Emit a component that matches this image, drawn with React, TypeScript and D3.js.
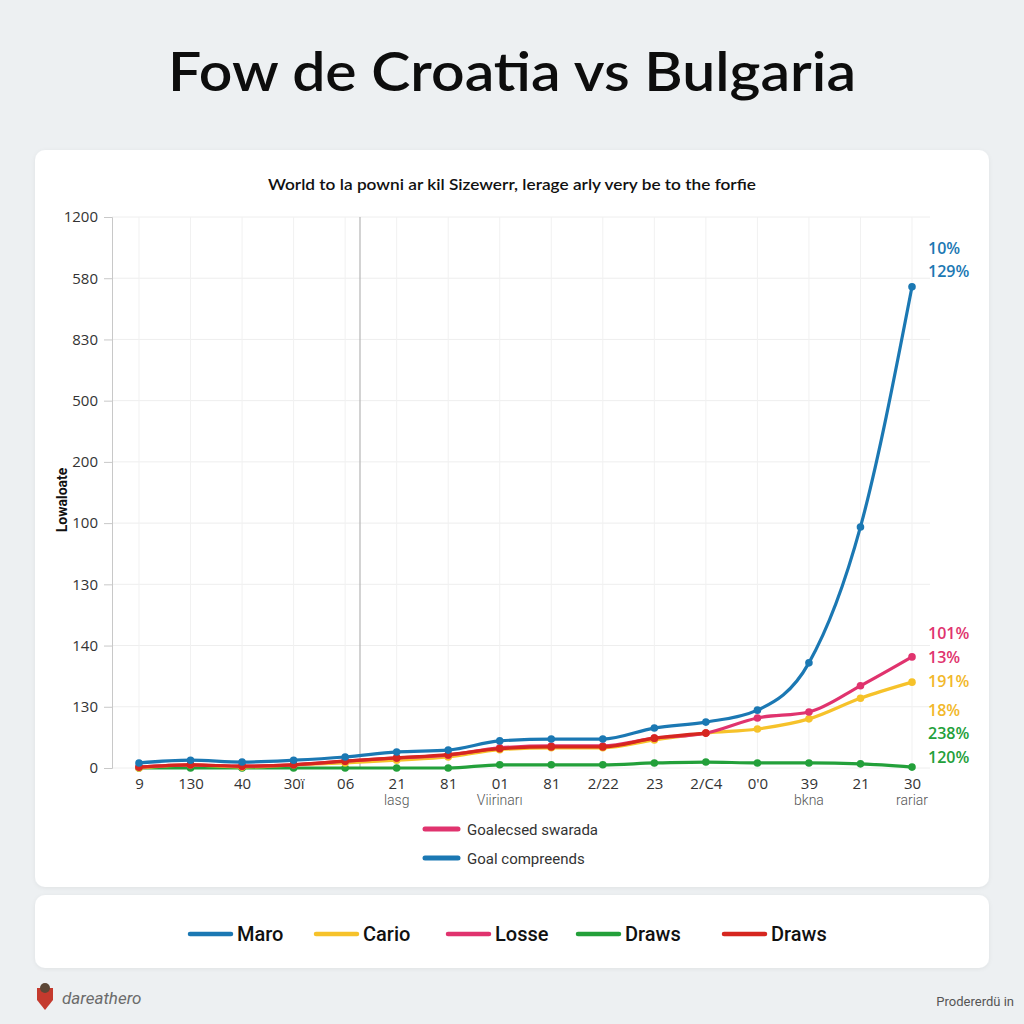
import React, { useEffect, useRef } from "react";
import * as d3 from "d3";

// x categories (tick labels as printed) and second row labels
const xLabels = ["9", "130", "40", "30ї", "06", "21", "81", "01", "81", "2/22", "23", "2/C4", "0'0", "39", "21", "30"];
const xSubLabels = ["", "", "", "", "", "lasg", "", "Viirinarı", "", "", "", "", "", "bkna", "", "rariar"];
const yTickLabels = ["0", "130", "140", "130", "100", "200", "500", "830", "580", "1200"];

const maro = [11, 17, 13, 17, 24, 35, 39, 59, 63, 63, 87, 100, 126, 229, 525, 1048];
const cario = [0, 7, 2, 7, 11, 17, 24, 40, 44, 44, 61, 76, 85, 107, 152, 187];
const losse = [2, 7, 4, 7, 15, 22, 28, 44, 48, 48, 65, 76, 109, 122, 179, 242];
const draws = [0, 0, 0, 0, 0, 0, 0, 7, 7, 7, 11, 13, 11, 11, 9, 2];
const drawsRed = [2, 7, 4, 7, 15, 22, 29, 42, 46, 46, 65, 76];

const endLabels = [
  { text: "10%", color: "#1b78b3", y: 248 },
  { text: "129%", color: "#1b78b3", y: 271 },
  { text: "101%", color: "#e0336e", y: 633 },
  { text: "13%", color: "#e0336e", y: 657 },
  { text: "191%", color: "#f2b82a", y: 681 },
  { text: "18%", color: "#f2b82a", y: 710 },
  { text: "238%", color: "#23a03a", y: 733 },
  { text: "120%", color: "#23a03a", y: 757 },
];

const legendItems = [
  { name: "Maro", color: "#1b78b3", x: 190 },
  { name: "Cario", color: "#f6c22a", x: 316 },
  { name: "Losse", color: "#e0336e", x: 448 },
  { name: "Draws", color: "#23a03a", x: 578 },
  { name: "Draws", color: "#d6261f", x: 724 },
];

const App = () => {
  const svgRef = useRef<SVGSVGElement>(null);

  useEffect(() => {
    const svg = d3.select(svgRef.current);
    const x = d3.scaleLinear().domain([0, 15]).range([139, 912]);
    const y = d3.scaleLinear().domain([0, 1200]).range([768, 217]);
    const yTicks = yTickLabels.map((_, i) => (i * 1200) / 9);
    const font = "'Open Sans', 'DejaVu Sans', sans-serif";

    const g = svg.select(".plot");
    g.selectAll("*").remove();

    // grid
    g.append("g")
      .selectAll("line")
      .data(yTicks)
      .join("line")
      .attr("x1", 112)
      .attr("x2", 930)
      .attr("y1", (d) => y(d))
      .attr("y2", (d) => y(d))
      .attr("stroke", "#eeeeee");
    g.append("g")
      .selectAll("line")
      .data(xLabels)
      .join("line")
      .attr("x1", (_, i) => x(i))
      .attr("x2", (_, i) => x(i))
      .attr("y1", 217)
      .attr("y2", 768)
      .attr("stroke", "#f1f1f1");

    g.append("line")
      .attr("x1", 360).attr("x2", 360).attr("y1", 217).attr("y2", 768)
      .attr("stroke", "#b5b5b5").attr("stroke-width", 1.2);

    // y axis
    const yAxis = d3
      .axisLeft(y)
      .tickValues(yTicks)
      .tickFormat((_, i) => yTickLabels[i])
      .tickSize(8)
      .tickPadding(6);
    const ya = g.append("g").attr("transform", "translate(112,0)").call(yAxis);
    ya.select(".domain").attr("stroke", "#c8c8c8");
    ya.selectAll(".tick line").attr("stroke", "#c8c8c8");
    ya.selectAll("text").attr("fill", "#333").style("font", `15px ${font}`);

    // x labels
    const xAxis = d3
      .axisBottom(x)
      .tickValues(d3.range(16))
      .tickFormat((_, i) => xLabels[i])
      .tickSize(0)
      .tickPadding(10);
    const xa = g.append("g").attr("transform", "translate(0,768)").call(xAxis);
    xa.select(".domain").remove();
    xa.selectAll("text").attr("fill", "#333").style("font", `15px ${font}`);
    g.append("g")
      .selectAll("text")
      .data(xSubLabels)
      .join("text")
      .attr("x", (_, i) => x(i))
      .attr("y", 805)
      .attr("text-anchor", "middle")
      .attr("fill", "#555")
      .style("font", `300 14px 'Roboto', sans-serif`)
      .text((d) => d);

    const line = d3
      .line<number>()
      .x((_, i) => x(i))
      .y((d) => y(d))
      .curve(d3.curveMonotoneX);

    const series = [
      { data: draws, color: "#23a03a" },
      { data: cario, color: "#f6c22a" },
      { data: losse, color: "#e0336e" },
      { data: drawsRed, color: "#d6261f" },
      { data: maro, color: "#1b78b3" },
    ];
    series.forEach((s) => {
      g.append("path")
        .datum(s.data)
        .attr("d", line)
        .attr("fill", "none")
        .attr("stroke", s.color)
        .attr("stroke-width", 3.2)
        .attr("stroke-linejoin", "round");
      g.append("g")
        .selectAll("circle")
        .data(s.data)
        .join("circle")
        .attr("cx", (_, i) => x(i))
        .attr("cy", (d) => y(d))
        .attr("r", 3.8)
        .attr("fill", s.color);
    });

    g.append("g")
      .selectAll("text")
      .data(endLabels)
      .join("text")
      .attr("x", 928)
      .attr("y", (d) => d.y + 6)
      .attr("fill", (d) => d.color)
      .style("font", `600 16px ${font}`)
      .text((d) => d.text);
  }, []);

  const font = "'Open Sans', 'DejaVu Sans', sans-serif";
  const narrow = "'Roboto', sans-serif";

  return (
    <svg
      ref={svgRef}
      width={1024}
      height={1024}
      style={{ position: "absolute", left: 0, top: 0 }}
    >
      <defs>
        <filter id="sh" x="-5%" y="-5%" width="110%" height="110%">
          <feDropShadow dx="0" dy="1" stdDeviation="2" floodColor="#000" floodOpacity="0.06" />
        </filter>
      </defs>
      <rect width={1024} height={1024} fill="#edf0f2" />
      <text
        x={512}
        y={91}
        textAnchor="middle"
        textLength={688}
        lengthAdjust="spacingAndGlyphs"
        style={{ font: `600 54px Lato, ${font}` }}
        fill="#0d0d0d"
      >
        Fow de Croatia vs Bulgaria
      </text>
      <rect x={35} y={150} width={954} height={737} rx={10} fill="#fff" filter="url(#sh)" />
      <rect x={35} y={895} width={954} height={73} rx={10} fill="#fff" filter="url(#sh)" />
      <text
        x={512}
        y={190}
        textAnchor="middle"
        textLength={488}
        lengthAdjust="spacingAndGlyphs"
        style={{ font: `600 16px Lato, ${font}` }}
        fill="#111"
      >
        World to la powni ar kil Sizewerr, lerage arly very be to the forfie
      </text>
      <text
        transform="translate(67,500) rotate(-90)"
        textAnchor="middle"
        style={{ font: `bold 14px ${narrow}` }}
        fill="#111"
      >
        Lowaloate
      </text>
      <g className="plot" />
      <line x1={425} x2={458} y1={829} y2={829} stroke="#e0336e" strokeWidth={5} strokeLinecap="round" />
      <text x={467} y={835} style={{ font: `15px ${narrow}` }} fill="#333">
        Goalecsed swarada
      </text>
      <line x1={425} x2={458} y1={858} y2={858} stroke="#1b78b3" strokeWidth={5} strokeLinecap="round" />
      <text x={467} y={864} style={{ font: `15px ${narrow}` }} fill="#333">
        Goal compreends
      </text>
      {legendItems.map((d, i) => (
        <g key={i}>
          <line x1={d.x} x2={d.x + 41} y1={934} y2={934} stroke={d.color} strokeWidth={4.5} strokeLinecap="round" />
          <text x={d.x + 47} y={941} style={{ font: `500 20px ${narrow}` }} fill="#111">
            {d.name}
          </text>
        </g>
      ))}
      <path d="M37,988 L53,988 L53,1000 L45,1010 L37,1000 Z" fill="#c43a2e" />
      <circle cx={45} cy={988} r={5} fill="#5b4636" />
      <text x={62} y={1004} style={{ font: `italic 17px ${narrow}` }} fill="#6b6b6b">
        dareathero
      </text>
      <text x={1014} y={1006} textAnchor="end" style={{ font: `13px ${narrow}` }} fill="#555">
        Prodererdü in
      </text>
    </svg>
  );
};

export default App;
